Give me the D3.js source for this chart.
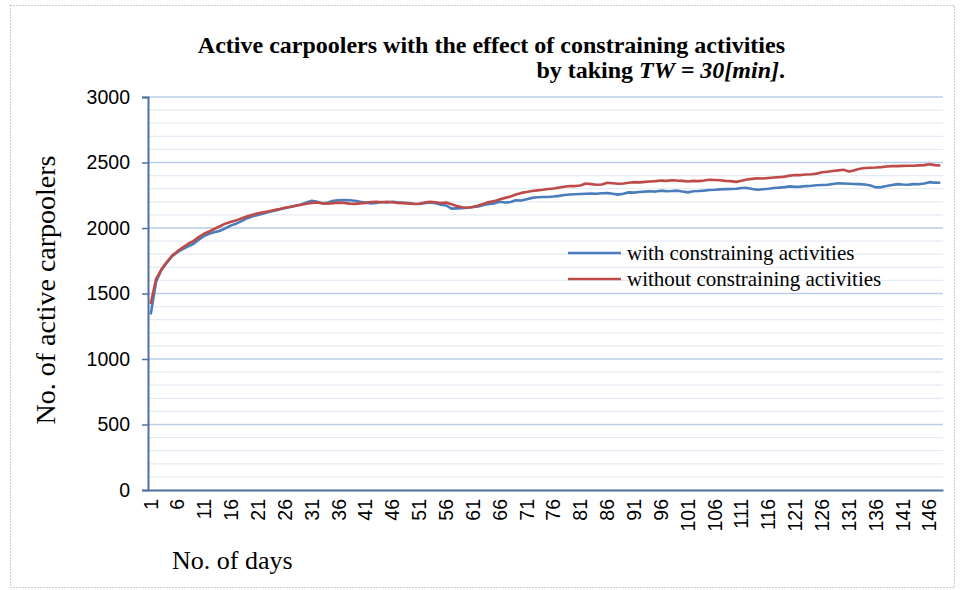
<!DOCTYPE html>
<html><head><meta charset="utf-8">
<script src="https://cdn.jsdelivr.net/npm/d3@7"></script>
<style>body{margin:0;background:#fff}svg{display:block}</style>
</head><body>
<svg id="chart" width="964" height="590"></svg>
<script>
const withConstraining = [1340,1590,1680,1735,1785,1815,1840,1860,1880,1912,1940,1958,1970,1980,2000,2020,2035,2055,2075,2090,
2100,2110,2122,2132,2142,2152,2160,2170,2180,2195,2208,2200,2188,2195,2208,2212,2213,2212,2208,2200,
2195,2188,2192,2198,2195,2200,2196,2193,2190,2185,2183,2190,2195,2190,2178,2172,2148,2150,2152,2155,
2160,2165,2175,2183,2188,2200,2195,2198,2212,2210,2220,2230,2235,2237,2237,2240,2245,2252,2256,2258,
2260,2262,2263,2262,2265,2266,2262,2255,2262,2272,2270,2275,2278,2280,2278,2285,2280,2282,2285,2278,
2272,2280,2282,2285,2290,2292,2295,2297,2298,2300,2305,2306,2298,2292,2296,2300,2305,2308,2312,2318,
2314,2316,2320,2322,2326,2328,2330,2336,2342,2340,2338,2336,2335,2332,2325,2310,2312,2320,2328,2335,
2332,2330,2335,2334,2340,2350,2346,2345];
const withoutConstraining = [1420,1610,1685,1740,1790,1822,1852,1880,1902,1932,1958,1975,1996,2015,2035,2048,2060,2075,2090,2102,
2112,2120,2128,2138,2145,2155,2162,2170,2178,2185,2192,2195,2188,2186,2190,2194,2192,2186,2184,2188,
2192,2198,2200,2196,2200,2196,2192,2190,2188,2183,2185,2195,2200,2196,2190,2195,2182,2168,2158,2155,
2160,2172,2185,2198,2205,2220,2230,2240,2255,2268,2275,2282,2287,2292,2298,2302,2308,2315,2320,2320,
2325,2340,2335,2330,2332,2345,2342,2338,2340,2345,2350,2348,2352,2355,2358,2362,2360,2365,2362,2360,
2355,2360,2358,2362,2368,2366,2364,2360,2358,2352,2360,2370,2375,2380,2378,2382,2386,2388,2392,2400,
2405,2404,2408,2410,2415,2425,2430,2435,2440,2445,2432,2440,2452,2458,2460,2462,2465,2470,2472,2472,
2474,2475,2475,2478,2480,2487,2480,2477];
const days = d3.range(1, withConstraining.length + 1);
const xTickLabels = d3.range(1, 148, 5);
const yTicks = [0, 500, 1000, 1500, 2000, 2500, 3000];
const yMinorTicks = d3.range(0, 3001, 100);
const seriesNames = ["with constraining activities", "without constraining activities"];
const seriesColors = ["#4a7ebb", "#be4b48"];

const serif = "'Liberation Serif', 'Times New Roman', serif";
const sans = "'Liberation Sans', Arial, sans-serif";

const svg = d3.select("#chart");
// outer dotted frame
svg.append("rect").attr("x", 10.5).attr("y", 5.5).attr("width", 944).attr("height", 582)
  .attr("fill", "none").attr("stroke", "#9a9a9a").attr("stroke-width", 1).attr("stroke-dasharray", "1,2");

const L = 148, R = 943, T = 97, B = 490;
const x = d3.scaleBand().domain(days).range([L, R]);
const y = d3.scaleLinear().domain([0, 3000]).range([B, T]);

// minor gridlines
svg.append("g").selectAll("line").data(yMinorTicks.filter(v => v % 500 !== 0)).join("line")
  .attr("x1", L).attr("x2", R).attr("y1", d => y(d)).attr("y2", d => y(d))
  .attr("stroke", "#e4ebf5").attr("stroke-width", 1.3);
// major gridlines
svg.append("g").selectAll("line").data(yTicks.filter(v => v > 0)).join("line")
  .attr("x1", L).attr("x2", R).attr("y1", d => y(d)).attr("y2", d => y(d))
  .attr("stroke", "#b9cde5").attr("stroke-width", 1.5);

// y axis
const yAxis = svg.append("g").attr("transform", `translate(${L},0)`)
  .call(d3.axisLeft(y).tickValues(yTicks).tickSize(6).tickPadding(12).tickFormat(d3.format("d")));
yAxis.select(".domain").attr("stroke", "#4f6f9f").attr("stroke-width", 2);
yAxis.selectAll(".tick line").attr("stroke", "#4f6f9f").attr("stroke-width", 1.5);
yAxis.selectAll(".tick text").attr("font-family", sans).attr("font-size", 19.5).attr("fill", "#000");

// x axis
const xAxis = svg.append("g").attr("transform", `translate(0,${B})`)
  .call(d3.axisBottom(x).tickValues(xTickLabels).tickSize(0).tickPadding(0));
xAxis.select(".domain").attr("stroke", "#4f6f9f").attr("stroke-width", 2);
xAxis.selectAll(".tick text")
  .attr("font-family", sans).attr("font-size", 19.5).attr("fill", "#000")
  .attr("transform", "rotate(-90)").attr("text-anchor", "end").attr("x", -9).attr("y", 0).attr("dy", "0.35em");

// lines
const line = d3.line().x((d, i) => x(days[i]) + x.bandwidth() / 2).y(d => y(d));
[withConstraining, withoutConstraining].forEach((s, i) => {
  svg.append("path").datum(s).attr("d", line).attr("fill", "none")
    .attr("stroke", seriesColors[i]).attr("stroke-width", 2.6).attr("stroke-linejoin", "round");
});

// title
svg.append("text").attr("font-family", serif).attr("font-weight", "bold").attr("font-size", 24)
  .attr("fill", "#000").attr("x", 785).attr("y", 53).attr("text-anchor", "end")
  .text("Active carpoolers with the effect of constraining activities");
const t2 = svg.append("text").attr("font-family", serif).attr("font-weight", "bold").attr("font-size", 24)
  .attr("fill", "#000").attr("x", 785).attr("y", 78).attr("text-anchor", "end");
t2.append("tspan").text("by taking ");
t2.append("tspan").attr("font-style", "italic").text("TW = 30[min]");
t2.append("tspan").text(".");

// axis titles
svg.append("text").attr("transform", "translate(55,290) rotate(-90)").attr("text-anchor", "middle")
  .attr("font-family", serif).attr("font-size", 28).text("No. of active carpoolers");
svg.append("text").attr("x", 172).attr("y", 569)
  .attr("font-family", serif).attr("font-size", 26).text("No. of days");

// legend
seriesNames.forEach((n, i) => {
  const ly = 253 + i * 26;
  svg.append("line").attr("x1", 568).attr("x2", 621).attr("y1", ly).attr("y2", ly)
    .attr("stroke", seriesColors[i]).attr("stroke-width", 2.6);
  svg.append("text").attr("x", 627).attr("y", ly + 7)
    .attr("font-family", serif).attr("font-size", 21).text(n);
});
</script>
</body></html>
